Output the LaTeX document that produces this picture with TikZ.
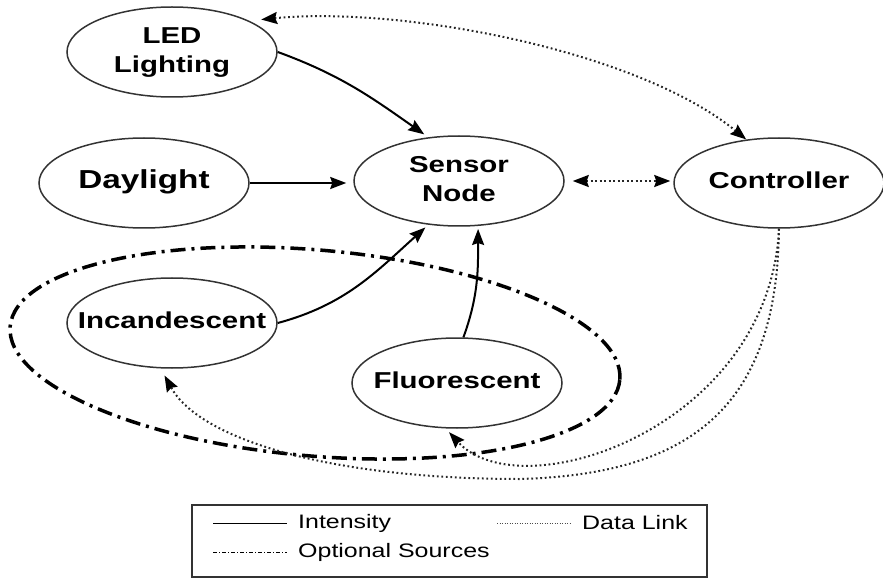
\documentclass[tikz,border=0pt]{standalone}
\usepackage{fontspec}
\setmainfont{Liberation Sans}[FakeStretch=1.28]
\usetikzlibrary{shapes.geometric,arrows.meta}
\newcommand{\Lbl}[1]{\makebox[0pt]{\begin{tabular}{@{}c@{}}#1\end{tabular}}}

\begin{document}
\begin{tikzpicture}[x=1pt,y=1pt,
  >={Stealth[length=16pt,width=12pt,inset=2pt,black]},
  src/.style={ellipse,draw=black!80,line width=1.5pt,minimum width=210pt,
    minimum height=90pt,inner sep=0pt,font=\fontsize{23}{29}\selectfont\bfseries},
  intensity/.style={line width=2pt},
  datalink/.style={black!85,line width=2pt,dash pattern=on 1.8pt off 2.7pt},
  optional/.style={line width=3.5pt,dash pattern=on 15pt off 6pt on 3pt off 6pt},
  keytext/.style={anchor=west,inner sep=0pt,font=\fontsize{19.5}{22}\selectfont}]
  \useasboundingbox (0,0) rectangle (883,579);

  % sources, sensor and controller
  \node[src] (led) at (172,527) {\Lbl{LED\\Lighting}};
  \node[src,font=\fontsize{26}{29}\selectfont\bfseries] (day) at (144,396) {\Lbl{Daylight}};
  \node[src] (sensor) at (459,398) {\Lbl{Sensor\\Node}};
  \node[src] (ctrl) at (779,396) {\Lbl{Controller}};
  \node[src] (inc) at (172,256) {\Lbl{Incandescent}};
  \node[src] (fluo) at (457,196) {\Lbl{Fluorescent}};

  % optional sources
  \draw[optional,rotate around={-5:(315,226)}] (315,226) ellipse [x radius=306pt,y radius=103pt];

  % intensity
  \draw[intensity,->,shorten >=5pt] (led.east) to[out=-20,in=145] (sensor.125);
  \draw[intensity,->,shorten >=7pt] (day.east) -- (day.east -| sensor.west);
  \draw[intensity,->,shorten >=4pt] (inc.east) to[out=15,in=222] (sensor.235);
  \draw[intensity,->,shorten >=3pt] (fluo.82) to[out=70,in=270] (sensor.293);

  % data links
  \draw[datalink,<->,shorten <=12pt] (led.22) .. controls +(150,15) and +(-110,90) .. (ctrl.127);
  \draw[datalink,<->,shorten <=8pt,shorten >=3pt] (sensor.east) -- (sensor.east -| ctrl.west);
  \draw[datalink,->,shorten >=5pt] (ctrl.south) .. controls +(-10,-200) and +(75,-82) .. (fluo.256);
  \draw[datalink,->,shorten >=8pt] (ctrl.south) .. controls +(-2,-170) and +(180,5) .. (520,100)
    .. controls +(-190,0) and +(39,-71) .. (inc.256);

  % legend
  \draw[line width=1.5pt,draw=black!80] (192,2) rectangle (707,74);
  \node[keytext] (kint) at (298,56) {Intensity};
  \node[keytext] (kopt) at (298,27) {Optional Sources};
  \node[keytext] (kdat) at (582,56) {Data Link};
  \draw[line width=1pt] ([xshift=-85pt]kint.west) -- ([xshift=-11pt]kint.west);
  \draw[line width=1pt,dash pattern=on 4pt off 2pt on 1pt off 2pt] ([xshift=-85pt]kopt.west) -- ([xshift=-11pt]kopt.west);
  \draw[black!70,line width=0.8pt,dash pattern=on 1pt off 1.5pt] ([xshift=-85pt]kdat.west) -- ([xshift=-12pt]kdat.west);
\end{tikzpicture}
\end{document}
